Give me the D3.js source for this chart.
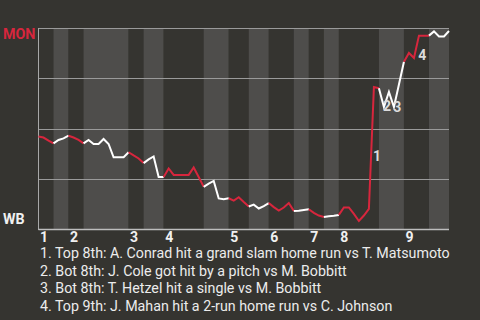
<!DOCTYPE html>
<html>
<head>
<meta charset="utf-8">
<script src="https://cdnjs.cloudflare.com/ajax/libs/d3/7.8.5/d3.min.js"></script>
<style>
	body { margin: 0; background: #353430; }
	svg { display: block; font-family: Roboto, sans-serif; }
</style>
</head>
<body>
<div id="chart"></div>
<script>
var innings = ["1", "2", "3", "4", "5", "6", "7", "8", "9"];

// plate appearance index where each half inning starts (last value = end of game)
var halfStarts = [0, 3, 6, 9, 18, 21, 25, 33, 38, 42, 46, 51, 54, 57, 60, 68, 73, 78, 82];

// MON win probability (%) after each plate appearance
var monWinProb = [
	46.0, 45.5, 44.0, 42.6, 44.3, 45.1, 46.4, 45.5, 44.3, 42.6,
	44.3, 42.3, 42.3, 44.8, 42.3, 35.7, 35.7, 35.7, 38.2, 36.6,
	35.1, 32.8, 34.6, 36.1, 25.9, 25.9, 30.1, 26.9, 26.9, 26.9,
	26.9, 30.6, 25.9, 21.0, 22.6, 23.9, 15.2, 14.8, 15.3, 14.1,
	15.8, 13.4, 11.2, 12.1, 10.2, 11.4, 12.9, 10.9, 9.2, 10.7,
	12.9, 9.0, 9.1, 9.5, 9.8, 8.0, 6.7, 6.0, 6.3, 6.6,
	7.0, 10.7, 10.7, 7.5, 4.0, 6.7, 10.0, 70.6, 70.0, 60.7,
	68.2, 60.7, 71.9, 83.2, 87.6, 85.1, 96.2, 96.2, 96.2, 98.3,
	95.8, 95.8, 98.5
];

var keyEvents = [67, 69, 71, 76];
var keyEventNotes = [
	"Top 8th: A. Conrad hit a grand slam home run vs T. Matsumoto",
	"Bot 8th: J. Cole got hit by a pitch vs M. Bobbitt",
	"Bot 8th: T. Hetzel hit a single vs M. Bobbitt",
	"Top 9th: J. Mahan hit a 2-run home run vs C. Johnson"
];

var gridTicks = [25, 50, 75, 100];

var width = 480,
	height = 320;

var svg = d3.select("#chart")
	.append("svg")
	.attr("width", width)
	.attr("height", height);

var xScale = d3.scaleLinear()
	.domain([0, halfStarts[halfStarts.length - 1]])
	.range([38.5, 449]);

var yScale = d3.scaleLinear()
	.domain([0, 100])
	.range([229, 28]);

//Half inning stripes
var halves = d3.range(halfStarts.length - 1).map(function(i) {
	return { top: i % 2 == 0, start: halfStarts[i], end: halfStarts[i + 1] };
});

svg.append("g")
	.selectAll("rect")
	.data(halves)
	.enter()
	.append("rect")
	.attr("x", function(d) { return xScale(d.start); })
	.attr("width", function(d) { return xScale(d.end) - xScale(d.start); })
	.attr("y", yScale(100))
	.attr("height", yScale(0) - yScale(100))
	.attr("fill", function(d) { return d.top ? "#353430" : "#4e4d4b"; });

//Grid lines
svg.append("g")
	.selectAll("line")
	.data(gridTicks)
	.enter()
	.append("line")
	.attr("x1", xScale(0))
	.attr("x2", xScale(halfStarts[halfStarts.length - 1]))
	.attr("y1", function(d) { return Math.round(yScale(d)) + 0.5; })
	.attr("y2", function(d) { return Math.round(yScale(d)) + 0.5; })
	.attr("stroke", "#9a9a9a")
	.attr("stroke-width", 1);

//Axes
svg.append("line")
	.attr("x1", xScale(0))
	.attr("x2", xScale(0))
	.attr("y1", yScale(100))
	.attr("y2", yScale(0) + 1)
	.attr("stroke", "#a8a8a8")
	.attr("stroke-width", 1);

svg.append("line")
	.attr("x1", xScale(0))
	.attr("x2", xScale(halfStarts[halfStarts.length - 1]))
	.attr("y1", Math.round(yScale(0)) + 0.5)
	.attr("y2", Math.round(yScale(0)) + 0.5)
	.attr("stroke", "#bdbdbd")
	.attr("stroke-width", 1.5);

//Inning labels
svg.append("g")
	.selectAll("text")
	.data(innings)
	.enter()
	.append("text")
	.attr("x", function(d, i) { return xScale(halfStarts[i * 2]) + 1.5; })
	.attr("y", 242)
	.attr("fill", "#f0f0f0")
	.attr("font-size", 14)
	.attr("font-weight", "bold")
	.text(function(d) { return d; });

//Win probability line, one path per half inning
var line = d3.line()
	.x(function(d) { return xScale(d); })
	.y(function(d) { return yScale(monWinProb[d]); });

svg.append("g")
	.selectAll("path")
	.data(halves)
	.enter()
	.append("path")
	.attr("d", function(d) { return line(d3.range(d.start, d.end + 1)); })
	.attr("fill", "none")
	.attr("stroke", function(d) { return d.top ? "#d7263d" : "#ffffff"; })
	.attr("stroke-width", 2)
	.attr("stroke-linejoin", "miter");

//Key event markers
svg.append("g")
	.selectAll("text")
	.data(keyEvents)
	.enter()
	.append("text")
	.attr("x", function(d) { return xScale(d) - 0.8; })
	.attr("y", function(d) { return (yScale(monWinProb[d - 1]) + yScale(monWinProb[d])) / 2 + 13; })
	.attr("fill", "#dcdcdc")
	.attr("font-size", 14)
	.attr("font-weight", "bold")
	.text(function(d, i) { return i + 1; });

//Team labels
svg.append("text")
	.attr("x", 3)
	.attr("y", 38.5)
	.attr("fill", "#d7263d")
	.attr("font-size", 14.3)
	.attr("font-weight", "bold")
	.text("MON");

svg.append("text")
	.attr("x", 3)
	.attr("y", 224.3)
	.attr("fill", "#f0f0f0")
	.attr("font-size", 14.3)
	.attr("font-weight", "bold")
	.text("WB");

//Notes
svg.append("g")
	.selectAll("text")
	.data(keyEventNotes)
	.enter()
	.append("text")
	.attr("x", 40)
	.attr("y", function(d, i) { return 257.7 + i * 17.8; })
	.attr("fill", "#ececec")
	.attr("font-size", 14.25)
	.text(function(d, i) { return (i + 1) + ". " + d; });
</script>
</body>
</html>
